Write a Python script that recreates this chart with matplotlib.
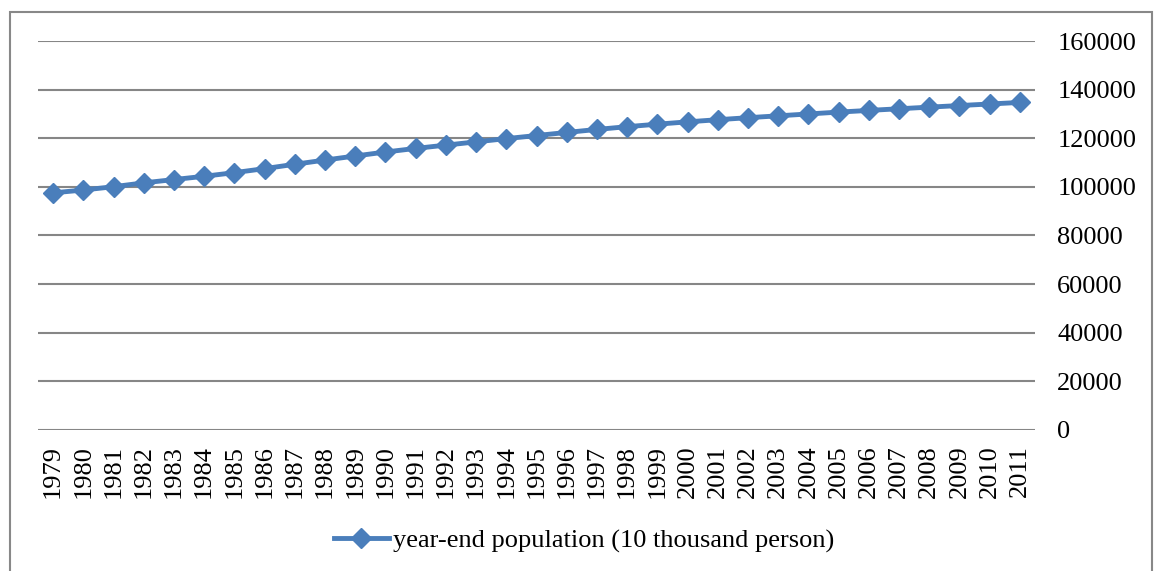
import matplotlib.pyplot as plt
import matplotlib.patches as patches

# year-end population, 10 thousand persons
years = [str(y) for y in range(1979, 2012)]
population = [97542, 98705, 100072, 101654, 103008, 104357, 105851, 107507,
              109300, 111026, 112704, 114333, 115823, 117171, 118517, 119850,
              121121, 122389, 123626, 124761, 125786, 126743, 127627, 128453,
              129227, 129988, 130756, 131448, 132129, 132802, 133450, 134091,
              134735]
y_ticks = [0, 20000, 40000, 60000, 80000, 100000, 120000, 140000, 160000]
series_name = "year-end population (10 thousand person)"

plt.rcParams['font.family'] = ['Liberation Serif', 'DejaVu Serif']

fig = plt.figure(figsize=(11.55, 5.71), dpi=100)
ax = fig.add_axes([38 / 1155, 1 - 430 / 571, 997 / 1155, 389 / 571])

x = range(len(years))
ax.plot(x, population, color='#4A7EBB', lw=3.5, marker='D', ms=10.5,
        label=series_name)

ax.set_xlim(-0.5, len(years) - 0.5)
ax.set_ylim(0, 160000)
ax.set_yticks(y_ticks)
ax.set_yticklabels([str(v) for v in y_ticks])
ax.set_xticks(list(x))
ax.set_xticklabels(years, rotation=90)
ax.yaxis.tick_right()
ax.tick_params(axis='y', length=0, pad=16, labelsize=19)
ax.tick_params(axis='x', length=0, pad=11, labelsize=19)
ax.grid(axis='y', color='#868686', lw=1.5)
ax.set_axisbelow(True)
for s in ax.spines.values():
    s.set_visible(False)

# legend centred on the whole chart area, not the plot
fig.legend(*ax.get_legend_handles_labels(), loc='center',
           bbox_to_anchor=(584 / 1155, 1 - 541 / 571), frameon=False,
           fontsize=19, handlelength=2.1, handletextpad=0.15)

# outer chart border
fig.patches.append(patches.Rectangle((10 / 1155, -0.05), 1142 / 1155, 1.05 - 12 / 571,
                                     transform=fig.transFigure, fill=False,
                                     edgecolor='#888888', lw=1.5))

fig.savefig('out.png', dpi=100)
